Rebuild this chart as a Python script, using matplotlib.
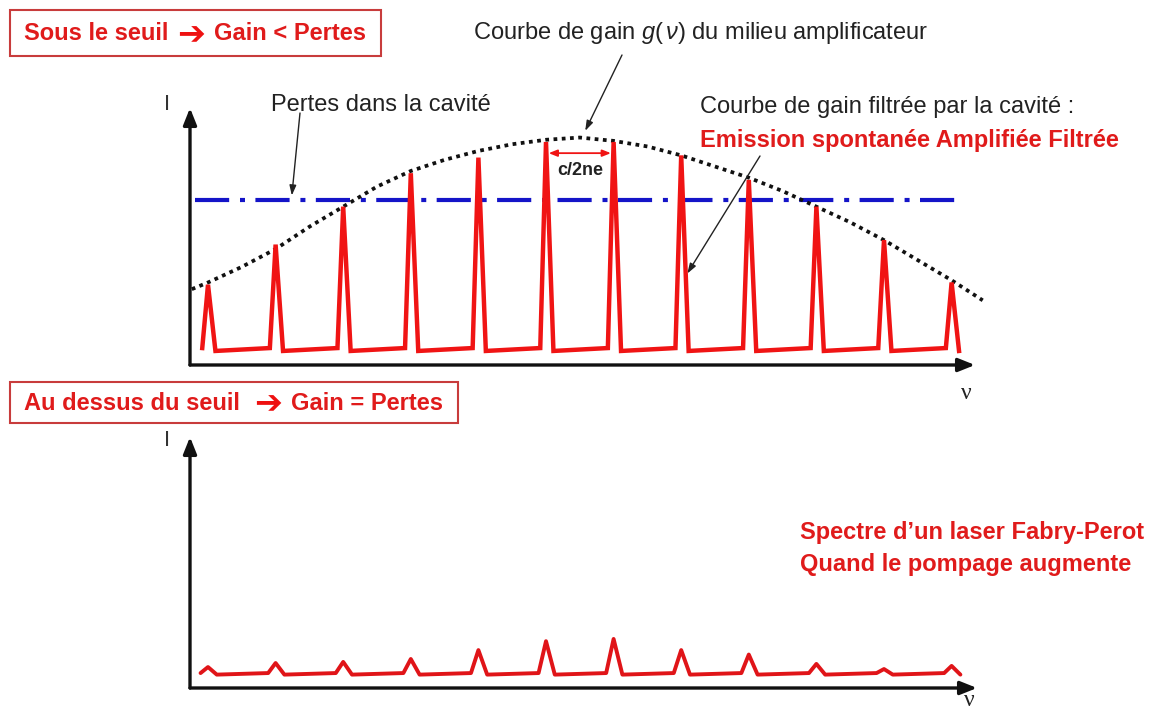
import matplotlib
matplotlib.use("Agg")
import matplotlib.pyplot as plt
from matplotlib.patches import Rectangle

plt.rcParams['font.family'] = ['Liberation Sans', 'DejaVu Sans']
plt.rcParams['mathtext.fontset'] = 'custom'
plt.rcParams['mathtext.rm'] = 'Liberation Sans'
plt.rcParams['mathtext.it'] = 'Liberation Sans:italic'

# cavity modes (index along nu, spacing c/2ne)
modes = [0, 1, 2, 3, 4, 5, 6, 7, 8, 9, 10, 11]

# below threshold: filtered ASE peak heights (arb. units)
peaks_below = [36, 54, 71, 86, 93, 100, 100, 94, 83, 71, 56, 37]
base_below = 7.6

# gain curve g(nu) of the amplifying medium
gain_nu = [-0.24, 0, 0.5, 1, 1.5, 2, 2.5, 3, 3.5, 4, 4.5, 5, 5.5, 6,
           6.5, 7, 7.5, 8, 8.5, 9, 9.5, 10, 10.5, 11, 11.46]
gain_val = [34, 37, 44, 52, 62, 71, 80, 87, 92, 96, 99, 101, 102, 100.5,
            98, 94, 89, 84, 78, 71, 64, 56, 47, 38, 29]

# cavity losses
loss_level = 74
loss_span = [-0.19, 11.15]

# above threshold: laser spectrum
peaks_above = [9.4, 11.2, 11.7, 13, 17, 21, 22, 17, 15, 10.8, 8.5, 9.9]
base_above = 6.7

W, H = 1154, 714
RED = '#f01414'
TXT_RED = '#e01b1b'
BOX_RED = '#c83c3c'


def fpos(x, y):
    return x / W, 1 - y / H


def spectrum(heights, base, left, right, drop):
    xs, ys = [], []
    for k, h in zip(modes, heights):
        xs += [k - left, k, k + right]
        ys += [base, h, base - drop]
    return xs, ys


def axis_arrows(ax, xend, yend):
    x0 = ax.get_xlim()[0]
    kw = dict(arrowstyle='-|>,head_length=1.0,head_width=0.4', lw=2.4,
              color='#111111', shrinkA=0, shrinkB=0)
    ax.annotate('', xy=(xend, 0), xytext=(x0, 0), arrowprops=kw,
                annotation_clip=False)
    ax.annotate('', xy=(x0, yend), xytext=(x0, 0), arrowprops=kw,
                annotation_clip=False)


def title_box(box, y, left, arrow_x, right_x, right):
    x0, y0, x1, y1 = box
    fig.add_artist(Rectangle(fpos(x0, y1), (x1 - x0) / W, (y1 - y0) / H,
                             transform=fig.transFigure, fill=False,
                             ec=BOX_RED, lw=1.5))
    tkw = dict(va='center', fontsize=17, fontweight='bold', color=TXT_RED)
    fig.text(*fpos(x0 + 14, y), left, ha='left', **tkw)
    fig.text(*fpos(arrow_x, y + 1), '\u2794', ha='center', va='center',
             fontsize=24, fontweight='bold', color='#ee1111',
             family='DejaVu Sans')
    fig.text(*fpos(right_x, y), right, ha='left', **tkw)


fig = plt.figure(figsize=(W / 100, H / 100), dpi=100)
fig.patch.set_facecolor('white')

xlim = ((190 - 208) / 67.6, (1000 - 208) / 67.6)

# ---- below threshold ----
ax1 = fig.add_axes([190 / W, 1 - 365 / H, 810 / W, 265 / H])
ax1.set_xlim(*xlim)
ax1.set_ylim(0, 265 / 2.23)
ax1.axis('off')

ax1.plot(gain_nu, gain_val, color='#111111', lw=2.7,
         dashes=(1.0, 1.2), dash_capstyle='butt', zorder=3)
ax1.plot(loss_span, [loss_level, loss_level], color='#1414c8', lw=3.0,
         dashes=(8.2, 2.6, 1.2, 2.5), dash_capstyle='butt', zorder=2)
xs, ys = spectrum(peaks_below, base_below, 0.085, 0.11, 1.3)
ax1.plot(xs, ys, color=RED, lw=3.2, solid_joinstyle='miter', zorder=4)
axis_arrows(ax1, (975 - 208) / 67.6, (365 - 108) / 2.23)

# mode spacing marker
ax1.annotate('', xy=(5.96, 95), xytext=(5.04, 95),
             arrowprops=dict(arrowstyle='<|-|>,head_length=0.5,head_width=0.2',
                             lw=1.3, color=RED, shrinkA=0, shrinkB=0))
ax1.text(5.5, 87, 'c/2ne', ha='center', va='center', fontsize=13,
         fontweight='bold', color='#222222')

arrow_kw = dict(arrowstyle='-|>,head_length=0.6,head_width=0.2', lw=1.0,
                color='#222222', shrinkA=0, shrinkB=0)
ax1.annotate('', xy=(1.24, 76), xytext=fpos(300, 113),
             textcoords='figure fraction', arrowprops=arrow_kw)
ax1.annotate('', xy=(5.58, 105), xytext=fpos(622, 55),
             textcoords='figure fraction', arrowprops=arrow_kw)
ax1.annotate('', xy=(7.09, 41), xytext=fpos(760, 156),
             textcoords='figure fraction', arrowprops=arrow_kw)

# ---- above threshold ----
ax2 = fig.add_axes([190 / W, 1 - 688 / H, 810 / W, 258 / H])
ax2.set_xlim(*xlim)
ax2.set_ylim(0, 258 / 2.23)
ax2.axis('off')
xs, ys = spectrum(peaks_above, base_above, 0.11, 0.13, 0.7)
ax2.plot(xs, ys, color='#e01418', lw=2.8, solid_joinstyle='round',
         solid_capstyle='round', zorder=4)
axis_arrows(ax2, (977 - 208) / 67.6, (688 - 437) / 2.23)

# ---- titles and labels ----
title_box((10, 10, 381, 56), 34, 'Sous le seuil', 191, 214, 'Gain < Pertes')
title_box((10, 382, 458, 423), 403, 'Au dessus du seuil', 268, 291,
          'Gain = Pertes')

fig.text(*fpos(701, 33), r'Courbe de gain $g(\,\nu)$ du milieu amplificateur',
         ha='center', va='center', fontsize=17, color='#222222')
fig.text(*fpos(381, 105), 'Pertes dans la cavité', ha='center', va='center',
         fontsize=17, color='#222222')
fig.text(*fpos(700, 107), 'Courbe de gain filtrée par la cavité :', ha='left',
         va='center', fontsize=17, color='#222222')
fig.text(*fpos(700, 140), 'Emission spontanée Amplifiée Filtrée', ha='left',
         va='center', fontsize=17, fontweight='bold', color=TXT_RED)
fig.text(*fpos(800, 533), 'Spectre d\u2019un laser Fabry-Perot', ha='left',
         va='center', fontsize=17, fontweight='bold', color=TXT_RED)
fig.text(*fpos(800, 564), 'Quand le pompage augmente', ha='left',
         va='center', fontsize=17, fontweight='bold', color=TXT_RED)

for y in (104, 440):
    fig.text(*fpos(167, y), 'I', ha='center', va='center', fontsize=16,
             color='#333333')
for (x, y) in [(966, 393), (969, 701)]:
    fig.text(*fpos(x, y), 'ν', ha='center', va='center', fontsize=17,
             family=['Liberation Serif', 'DejaVu Serif'], color='#222222')

fig.savefig('out.png', dpi=100)
